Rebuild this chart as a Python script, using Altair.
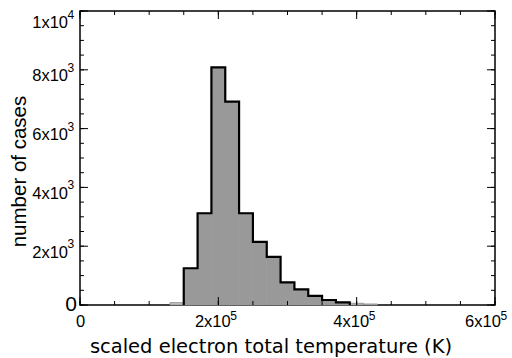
import altair as alt
import pandas as pd

# ---- data ----
bin_edges = [150000, 170000, 190000, 210000, 230000, 250000, 270000,
             290000, 310000, 330000, 350000, 370000, 390000]
counts = [1250, 3120, 8080, 6920, 3120, 2150, 1640, 770, 530, 310, 170, 90]

# faint background histogram (only its visible bins)
bg_lo = [130000, 390000, 410000]
bg_hi = [150000, 410000, 430000]
bg_counts = [80, 60, 35]

x_major = [0, 200000, 400000, 600000]
x_minor = [i * 50000 for i in range(13)]
y_major = [0, 2000, 4000, 6000, 8000, 10000]
y_minor = [i * 500 for i in range(21)]

# exponents of the tick labels (a x 10^n)
x_exp_ticks = [200000, 400000]
x_exp_last = [600000]
x_exp = "5"
y_exp_ticks = [2000, 4000, 6000, 8000]
y_exp_top = [10000]
y_exp = "3"
y_exp_top_txt = "4"

W, H = 415, 294
FONT = "Liberation Sans"

bars = pd.DataFrame({"x0": bin_edges[:-1], "x1": bin_edges[1:], "count": counts})
bg = pd.DataFrame({"x0": bg_lo, "x1": bg_hi, "count": bg_counts})
step = pd.DataFrame({
    "x": [bin_edges[0]] + bin_edges,
    "y": [0] + counts + [0],
    "i": list(range(len(bin_edges) + 1)),
})

xscale = alt.Scale(domain=[0, 600000], nice=False, zero=False)
yscale = alt.Scale(domain=[0, 10000], nice=False)

xaxis = alt.Axis(values=x_major, ticks=False, domain=False, grid=False,
                 labelExpr="datum.value == 0 ? '0' : toString(datum.value/100000) + 'x10'",
                 labelFont=FONT, labelFontSize=16.5, labelColor="black",
                 labelBaseline="alphabetic", labelPadding=21,
                 labelOffset={"condition": [
                     {"test": "datum.value == 0", "value": 0},
                     {"test": "datum.value == 600000", "value": -12.5}],
                     "value": -6},
                 title="scaled electron total temperature (K)", titleFont="DejaVu Sans",
                 titleFontSize=19.5, titleFontWeight="normal", titleColor="black",
                 titleBaseline="alphabetic", titleX=190.5, titleY=47,
                 labelFlush=False, labelOverlap=False)
yaxis = alt.Axis(values=y_major, ticks=False, domain=False, grid=False,
                 labelExpr="datum.value == 0 ? '0' : (datum.value == 10000 ? '1x10' : toString(datum.value/1000) + 'x10')",
                 labelFont=FONT,
                 labelFontSize={"condition": {"test": "datum.value == 0", "value": 21}, "value": 16.5},
                 labelColor="black", labelAlign="right", labelBaseline="alphabetic",
                 labelPadding={"condition": {"test": "datum.value == 0", "value": 3.5}, "value": 12.5},
                 labelOffset={"condition": [
                     {"test": "datum.value == 0", "value": 5},
                     {"test": "datum.value == 10000", "value": 16}],
                     "value": 11},
                 title="number of cases", titleFont=FONT, titleFontSize=20.5,
                 titleFontWeight="normal", titleColor="black",
                 titleBaseline="alphabetic", titleX=-55, titleY=160,
                 labelFlush=False, labelOverlap=False)

X = lambda f: alt.X(f, scale=xscale, axis=xaxis)
Y = lambda f: alt.Y(f, scale=yscale, axis=yaxis)

bg_layer = alt.Chart(bg).mark_rect(fill="#c4c4c4", stroke="#888888", strokeWidth=0.8).encode(
    x=X("x0:Q"), x2="x1:Q", y=Y("count:Q"), y2=alt.datum(0),
)

bar_layer = alt.Chart(bars).mark_rect(fill="#999999", stroke="#999999", strokeWidth=0.8).encode(
    x=X("x0:Q"), x2="x1:Q", y=Y("count:Q"), y2=alt.datum(0),
)

line_layer = alt.Chart(step).mark_line(color="black", strokeWidth=2.2,
                                       interpolate="step-after").encode(
    x=X("x:Q"), y=Y("y:Q"), order="i:Q",
)


def xticks(vals, length):
    df = pd.DataFrame({"t": vals})
    base = alt.Chart(df).mark_rule(color="black", strokeWidth=1)
    return [
        base.encode(x=X("t:Q"), y=alt.value(H), y2=alt.value(H - length)),
        base.encode(x=X("t:Q"), y=alt.value(0), y2=alt.value(length)),
    ]


def yticks(vals, length):
    df = pd.DataFrame({"t": vals})
    base = alt.Chart(df).mark_rule(color="black", strokeWidth=1)
    return [
        base.encode(y=Y("t:Q"), x=alt.value(0), x2=alt.value(length)),
        base.encode(y=Y("t:Q"), x=alt.value(W), x2=alt.value(W - length)),
    ]


tick_layers = xticks(x_minor, 4) + xticks(x_major, 8) + yticks(y_minor, 4) + yticks(y_major, 8)

EXP_SIZE = 12


def xexp(vals, txt, dx):
    df = pd.DataFrame({"t": vals, "s": [txt] * len(vals)})
    return alt.Chart(df).mark_text(font=FONT, fontSize=EXP_SIZE, color="black", align="left",
                                   baseline="alphabetic", dx=dx, dy=14.5).encode(
        x=X("t:Q"), y=alt.value(H), text="s:N")


def yexp(vals, txt, dy):
    df = pd.DataFrame({"t": vals, "s": [txt] * len(vals)})
    return alt.Chart(df).mark_text(font=FONT, fontSize=EXP_SIZE, color="black", align="left",
                                   baseline="alphabetic", dy=dy).encode(
        y=Y("t:Q"), x=alt.value(-12.5), text="s:N")


exp_layers = [
    xexp(x_exp_ticks, x_exp, 12),
    xexp(x_exp_last, x_exp, 5.5),
    yexp(y_exp_ticks, y_exp, 2),
    yexp(y_exp_top, y_exp_top_txt, 7.5),
]

chart = alt.layer(bg_layer, bar_layer, line_layer, *tick_layers, *exp_layers).properties(
    width=W, height=H,
    autosize=alt.AutoSizeParams(type="none"),
    padding={"left": 80, "top": 11, "right": 17, "bottom": 53},
    background="white",
).configure_view(stroke="black", strokeWidth=1.5)

chart.save("out.html", embed_options={"renderer": "svg", "actions": False})
